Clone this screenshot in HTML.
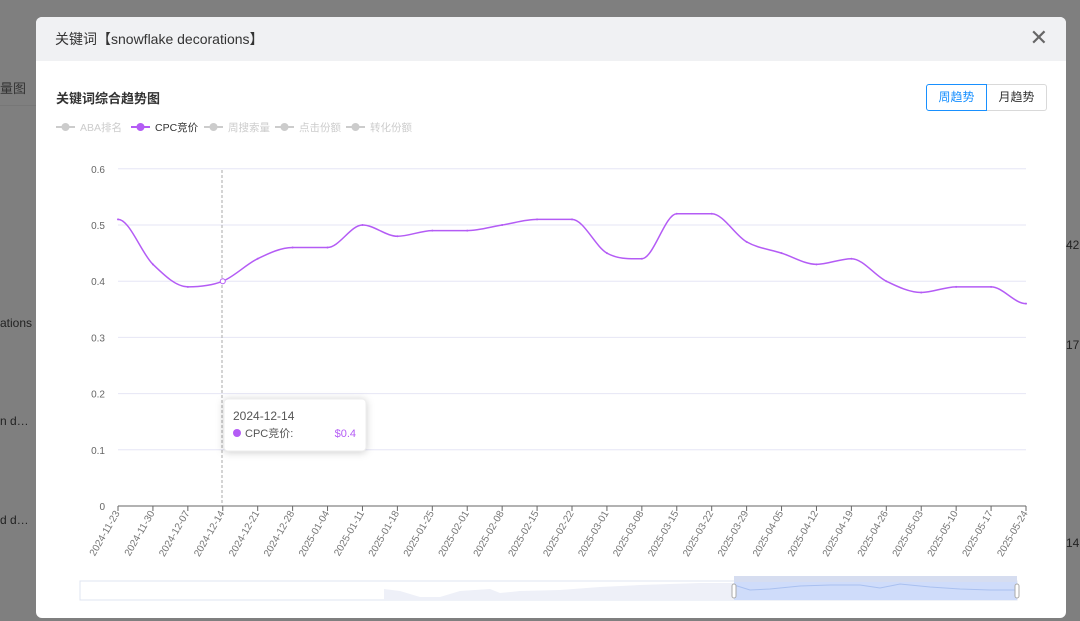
<!DOCTYPE html>
<html><head><meta charset="utf-8"><style>
body{margin:0;width:1080px;height:621px;overflow:hidden;background:#7f7f7f;font-family:"Liberation Sans","Noto Sans CJK SC",sans-serif;position:relative}
.bg{position:absolute;color:#222;font-size:12px}
.modal{position:absolute;left:36px;top:17px;width:1030px;height:601px;background:#fff;border-radius:6px;overflow:hidden}
.hd{height:44px;background:#f0f1f3;font-size:14px;color:#333;line-height:44px;padding-left:19px}
.x{position:absolute;right:18px;top:8px;font-size:22px;color:#666;font-weight:normal}
.t{position:absolute;left:20px;top:71px;font-size:13px;font-weight:bold;color:#333}
.btn{position:absolute;top:67px;height:25px;line-height:25px;font-size:12px;text-align:center;width:59px;border:1px solid #d9d9d9;color:#333}
</style></head><body>
<div style="position:absolute;left:0;top:105px;width:36px;height:1px;background:#777"></div>
<div class="bg" style="left:0;top:78px;font-size:13px;color:#333">量图</div>
<div class="bg" style="left:0;top:316px">ations</div>
<div class="bg" style="left:0;top:414px">n d…</div>
<div class="bg" style="left:0;top:513px">d d…</div>
<div class="bg" style="left:1066px;top:238px">42</div>
<div class="bg" style="left:1066px;top:338px">17</div>
<div class="bg" style="left:1066px;top:536px">14</div>
<div class="modal">
<div class="hd">关键词【snowflake decorations】</div>
<div class="x">✕</div>
<div class="t">关键词综合趋势图</div>
<div class="btn" style="left:890px;border-color:#1890ff;color:#1890ff;border-radius:3px 0 0 3px">周趋势</div>
<div class="btn" style="left:951px;border-radius:0 3px 3px 0;border-left:none">月趋势</div>
</div>
<svg id="s" style="position:absolute;left:0;top:0" width="1080" height="621" font-family="Liberation Sans, Noto Sans CJK SC, sans-serif"></svg>
<script>
const v=[0.51,0.43,0.39,0.40,0.44,0.46,0.46,0.50,0.48,0.49,0.49,0.50,0.51,0.51,0.45,0.44,0.52,0.52,0.47,0.45,0.43,0.44,0.40,0.38,0.39,0.39,0.36];
const d=["2024-11-23","2024-11-30","2024-12-07","2024-12-14","2024-12-21","2024-12-28","2025-01-04","2025-01-11","2025-01-18","2025-01-25","2025-02-01","2025-02-08","2025-02-15","2025-02-22","2025-03-01","2025-03-08","2025-03-15","2025-03-22","2025-03-29","2025-04-05","2025-04-12","2025-04-19","2025-04-26","2025-05-03","2025-05-10","2025-05-17","2025-05-24"];
const X=i=>118+i*908/26,Y=a=>506-a*562;
let h='';
const lg=[["ABA排名",56,"#ccc"],["CPC竞价",131,"#b45cf5"],["周搜索量",204,"#ccc"],["点击份额",275,"#ccc"],["转化份额",346,"#ccc"]];
lg.forEach(([t,x,c])=>{h+=`<line x1="${x}" y1="127" x2="${x+19}" y2="127" stroke="${c}" stroke-width="2"/><circle cx="${x+9.5}" cy="127" r="4" fill="${c}"/><text x="${x+24}" y="131" font-size="10.5" fill="${c==='#ccc'?'#ccc':'#333'}">${t}</text>`});
for(let k=0;k<=6;k++){const y=Y(k/10);h+=`<line x1="118" y1="${y}" x2="1026" y2="${y}" stroke="${k?'#e6e6f5':'#666'}"/><text x="105" y="${y+4}" font-size="10" fill="#666" text-anchor="end">${k?(k/10).toString():'0'}</text>`;}
h+=`<line x1="222" y1="170" x2="222" y2="506" stroke="#aaa" stroke-dasharray="3,2"/>`;
d.forEach((t,i)=>{const x=X(i);h+=`<line x1="${x}" y1="506" x2="${x}" y2="511" stroke="#666"/><text transform="translate(${x+2},${513}) rotate(-60)" font-size="10" fill="#777" text-anchor="end">${t}</text>`});
let p=`M${X(0)},${Y(v[0])}`;const s=0.35;
for(let i=0;i<26;i++){const x0=X(i),x1=X(i+1),y0=Y(v[i]),y1=Y(v[i+1]);
const ym=i>0?Y(v[i-1]):y0, yn=i<25?Y(v[i+2]):y1;
let m0=(y1-ym)/2,m1=(yn-y0)/2;
if((v[i]-(v[i-1]??v[i]))*(v[i+1]-v[i])<=0)m0=0;
if((v[i+1]-v[i])*((v[i+2]??v[i+1])-v[i+1])<=0)m1=0;
const dx=x1-x0;p+=` C${x0+dx/3},${y0+m0/3*2*s*1.43} ${x1-dx/3},${y1-m1/3*2*s*1.43} ${x1},${y1}`;}
h+=`<path d="${p}" fill="none" stroke="#b45cf5" stroke-width="1.5"/>`;
v.forEach((a,i)=>{h+=`<circle cx="${X(i)}" cy="${Y(a)}" r="1" fill="#b45cf5"/>`});
h+=`<circle cx="${X(3)}" cy="${Y(0.4)}" r="2.5" fill="#fff" stroke="#b45cf5"/>`;
h+=`<rect x="224" y="399" width="142" height="52" rx="4" fill="#fff" stroke="#eee" style="filter:drop-shadow(0 1px 4px rgba(0,0,0,.2))"/><text x="233" y="420" font-size="12" fill="#555">2024-12-14</text><circle cx="237" cy="433" r="4" fill="#b45cf5"/><text x="245" y="437" font-size="11" fill="#555">CPC竞价:</text><text x="356" y="437" font-size="11" fill="#b45cf5" text-anchor="end">$0.4</text>`;
h+=`<rect x="80" y="581" width="937" height="19" fill="#fff" stroke="#dfe4f0"/><path d="M384,589 L400,591 L420,597 L440,597 L460,591 L490,589 L500,593 L520,591 L560,590 L600,587 L640,585 L700,583 L734,583 L734,600 L384,600Z" fill="#eef0f8"/><rect x="734" y="576" width="283" height="6" fill="#d6ddf0"/><rect x="734" y="582" width="283" height="18" fill="#cfdcfa"/><path d="M734,585 L750,590 L770,589 L800,586 L830,585 L860,585 L880,588 L900,584 L930,587 L960,589 L990,590 L1017,590" fill="none" stroke="#a9c0f0"/><rect x="732" y="584" width="4" height="14" rx="2" fill="#fff" stroke="#aaa"/><rect x="1015" y="584" width="4" height="14" rx="2" fill="#fff" stroke="#aaa"/>`;
document.getElementById('s').innerHTML=h;
</script>
</body></html>
